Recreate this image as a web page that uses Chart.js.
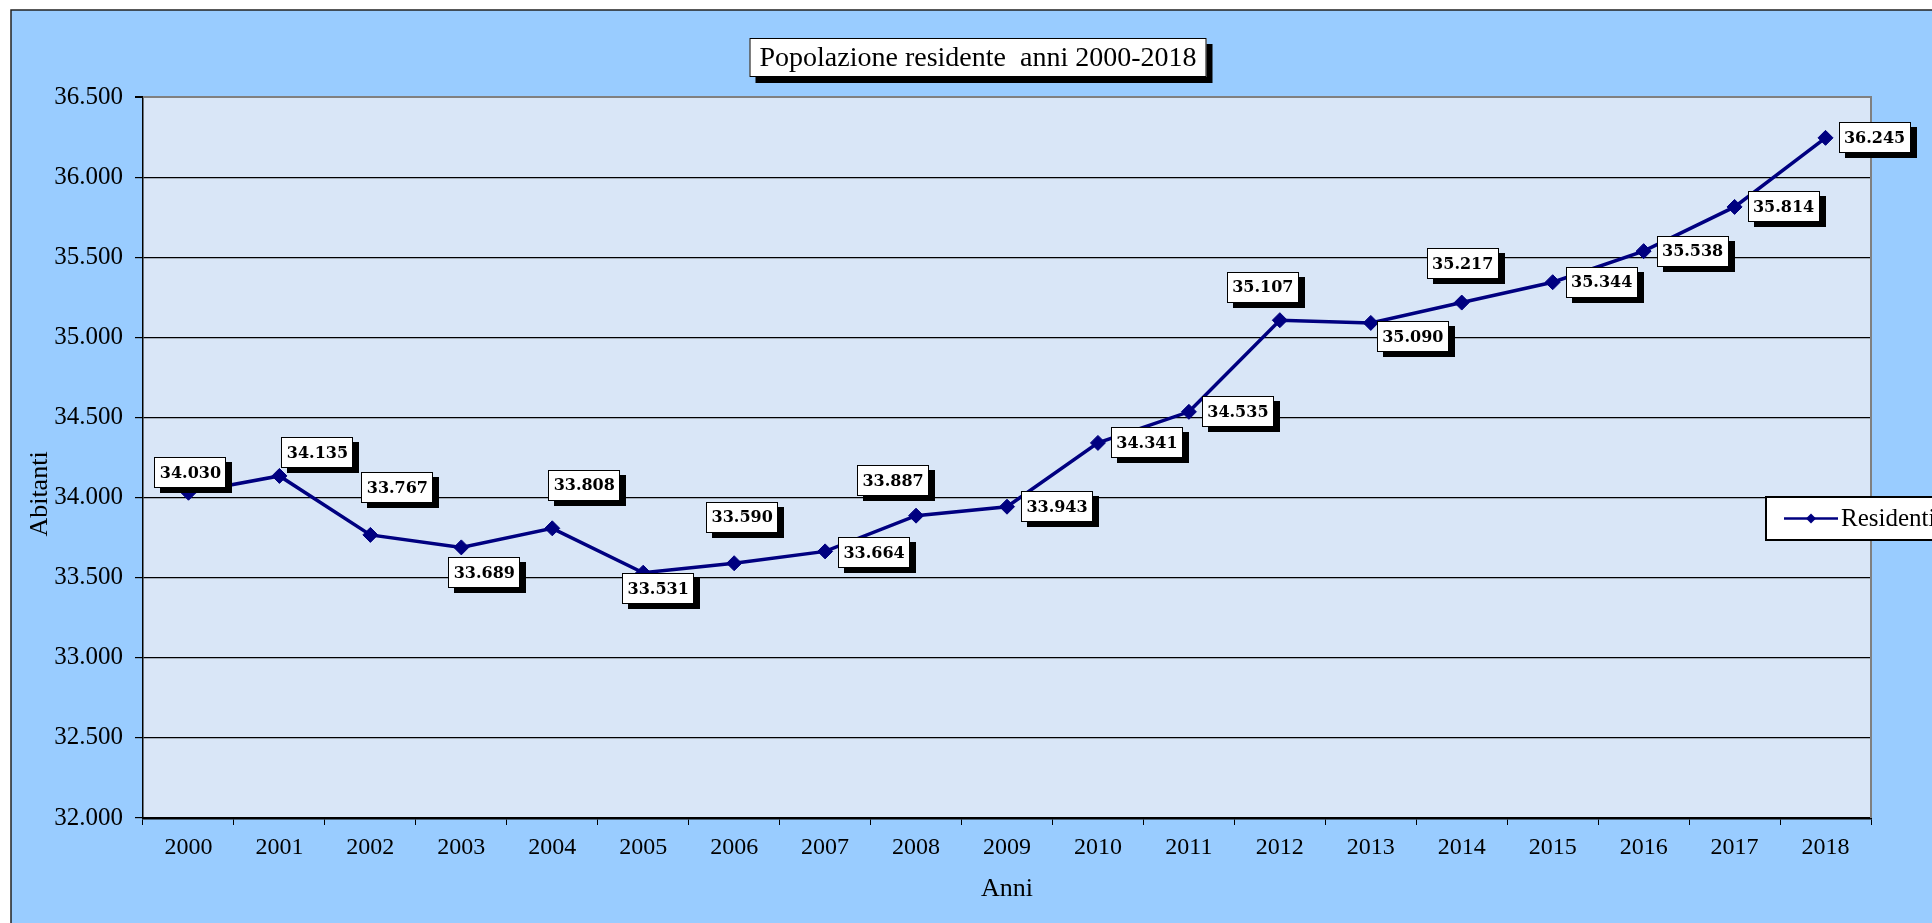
<!DOCTYPE html>
<html>
<head>
<meta charset="utf-8">
<script src="https://cdn.jsdelivr.net/npm/chart.js@4.4.1/dist/chart.umd.min.js"></script>
<style>
  html, body { margin: 0; padding: 0; background: #ffffff; }
  #chart-1 { display: block; }
</style>
</head>
<body>
<canvas id="chart-1" width="1932" height="923" style="width:1932px;height:923px"></canvas>
<script>
// data
const anni = ["2000", "2001", "2002", "2003", "2004", "2005", "2006", "2007", "2008", "2009",
  "2010", "2011", "2012", "2013", "2014", "2015", "2016", "2017", "2018"];
const residenti = [34030, 34135, 33767, 33689, 33808, 33531, 33590, 33664, 33887, 33943,
  34341, 34535, 35107, 35090, 35217, 35344, 35538, 35814, 36245];
const yMin = 32000, yMax = 36500, yStep = 500;

const titleText = "Popolazione residente  anni 2000-2018";
const yTitle = "Abitanti";
const serif = "'Liberation Serif', 'Times New Roman', serif";

// where each value box sits relative to its point (box centre)
const labelOffsets = [
  [2, -20], [38, -23], [27, -47], [23, 25], [32, -43], [15, 16], [8, -46], [49, 1],
  [-23, -35], [50, 0], [49, 0], [49, 0], [-17, -33], [42, 14], [1, -39], [49, 0],
  [49, 0], [49, 0], [49, 0],
];

/**
 * 34030 -> "34.030"
 */
function fmt(v) {
  return String(Math.round(v)).replace(/\B(?=(\d{3})+(?!\d))/g, ".");
}

function shadowBox(ctx, x, y, w, h, off) {
  ctx.fillStyle = "#000";
  ctx.fillRect(x + off[0], y + off[1], w, h);
  ctx.fillStyle = "#fff";
  ctx.fillRect(x, y, w, h);
  ctx.strokeStyle = "#000";
  ctx.lineWidth = 1;
  ctx.strokeRect(x + 0.5, y + 0.5, w - 1, h - 1);
}

const framePlugin = {
  id: "frame",
  beforeDraw(chart) {
    const { ctx, chartArea } = chart;
    ctx.save();
    ctx.fillStyle = "#ffffff";
    ctx.fillRect(0, 0, chart.width, chart.height);
    ctx.fillStyle = "#99CCFF";
    ctx.fillRect(11, 10, chart.width, chart.height);
    ctx.strokeStyle = "#222";
    ctx.lineWidth = 1.5;
    ctx.beginPath();
    ctx.moveTo(11, chart.height);
    ctx.lineTo(11, 10);
    ctx.lineTo(chart.width, 10);
    ctx.stroke();
    // plot background
    ctx.fillStyle = "#d9e6f7";
    ctx.fillRect(chartArea.left, chartArea.top,
      chartArea.right - chartArea.left, chartArea.bottom - chartArea.top);
    ctx.restore();
  },
  beforeDatasetsDraw(chart) {
    const { ctx, chartArea } = chart;
    ctx.save();
    ctx.strokeStyle = "#808080";
    ctx.lineWidth = 2;
    ctx.beginPath();
    ctx.moveTo(chartArea.left, chartArea.top);
    ctx.lineTo(chartArea.right, chartArea.top);
    ctx.lineTo(chartArea.right, chartArea.bottom);
    ctx.stroke();
    ctx.restore();
  },
  afterDraw(chart) {
    const { ctx } = chart;
    ctx.save();

    // y axis title
    ctx.save();
    ctx.translate(40, 494);
    ctx.rotate(-Math.PI / 2);
    ctx.font = "26px " + serif;
    ctx.fillStyle = "#000";
    ctx.textAlign = "center";
    ctx.textBaseline = "middle";
    ctx.fillText(yTitle, 0, 0);
    ctx.restore();

    // title box
    ctx.font = "28px " + serif;
    const tw = ctx.measureText(titleText).width;
    const bw = tw + 20, bh = 39;
    const bx = 978 - bw / 2, by = 38;
    shadowBox(ctx, bx, by, bw, bh, [6, 6]);
    ctx.fillStyle = "#000";
    ctx.textAlign = "center";
    ctx.textBaseline = "middle";
    ctx.fillText(titleText, 978, by + bh / 2 + 1);

    // value labels
    const meta = chart.getDatasetMeta(0);
    ctx.font = "bold 16px 'DejaVu Serif', serif";
    meta.data.forEach((pt, i) => {
      const [dx, dy] = labelOffsets[i];
      const cx = pt.x + dx, cy = pt.y + dy;
      const w = 72, h = 31;
      shadowBox(ctx, Math.round(cx - w / 2), Math.round(cy - h / 2), w, h, [6, 5]);
      ctx.fillStyle = "#000";
      ctx.fillText(fmt(residenti[i]), cx, cy + 1);
    });

    // legend
    const ds = chart.data.datasets[0];
    const lx = 1766, ly = 497, lw = 200, lh = 43;
    ctx.fillStyle = "#fff";
    ctx.fillRect(lx, ly, lw, lh);
    ctx.strokeStyle = "#000";
    ctx.lineWidth = 2;
    ctx.strokeRect(lx, ly, lw, lh);
    const my = ly + lh / 2;
    ctx.strokeStyle = ds.borderColor;
    ctx.lineWidth = 2.5;
    ctx.beginPath();
    ctx.moveTo(1784, my);
    ctx.lineTo(1838, my);
    ctx.stroke();
    ctx.fillStyle = ds.pointBackgroundColor;
    ctx.beginPath();
    ctx.moveTo(1811, my - 5);
    ctx.lineTo(1816, my);
    ctx.lineTo(1811, my + 5);
    ctx.lineTo(1806, my);
    ctx.closePath();
    ctx.fill();
    ctx.fillStyle = "#000";
    ctx.font = "25px " + serif;
    ctx.textAlign = "left";
    ctx.fillText(ds.label, 1841, my + 1);

    ctx.restore();
  },
};

const ctx1 = document.getElementById("chart-1").getContext("2d");
new Chart(ctx1, {
  type: "line",
  data: {
    labels: anni,
    datasets: [
      {
        label: "Residenti",
        data: residenti,
        borderColor: "#000080",
        backgroundColor: "#000080",
        pointBackgroundColor: "#000080",
        pointBorderColor: "#000080",
        borderWidth: 3.5,
        pointStyle: "rectRot",
        pointRadius: 7.5,
        pointBorderWidth: 1,
        tension: 0,
      },
    ],
  },
  options: {
    responsive: false,
    animation: false,
    devicePixelRatio: 1,
    layout: { padding: { left: 0, right: 61, top: 97, bottom: 0 } },
    plugins: {
      legend: { display: false },
      title: { display: false },
      tooltip: { enabled: false },
    },
    scales: {
      x: {
        offset: true,
        afterFit: (scale) => { scale.height = 105; },
        grid: {
          offset: true,
          drawOnChartArea: false,
          drawTicks: true,
          tickLength: 7,
          tickColor: "#000",
        },
        border: { color: "#000", width: 2.5 },
        ticks: {
          color: "#000",
          font: { family: serif, size: 24 },
          padding: 8,
          maxRotation: 0,
          autoSkip: false,
        },
        title: {
          display: true,
          text: "Anni",
          color: "#000",
          font: { family: serif, size: 26 },
          padding: { top: 0, bottom: 18 },
        },
      },
      y: {
        min: yMin,
        max: yMax,
        afterFit: (scale) => { scale.width = 143; },
        grid: {
          color: (c) => (c.tick && c.tick.value === yMax ? "#808080" : "#000"),
          lineWidth: (c) => (c.tick && c.tick.value === yMax ? 2 : 1.2),
          tickLength: 8,
          tickColor: "#000",
        },
        border: { color: "#000", width: 1.5 },
        ticks: {
          stepSize: yStep,
          color: "#000",
          font: { family: serif, size: 25 },
          padding: 12,
          callback: (v) => fmt(v),
        },
      },
    },
  },
  plugins: [framePlugin],
});
</script>
</body>
</html>
